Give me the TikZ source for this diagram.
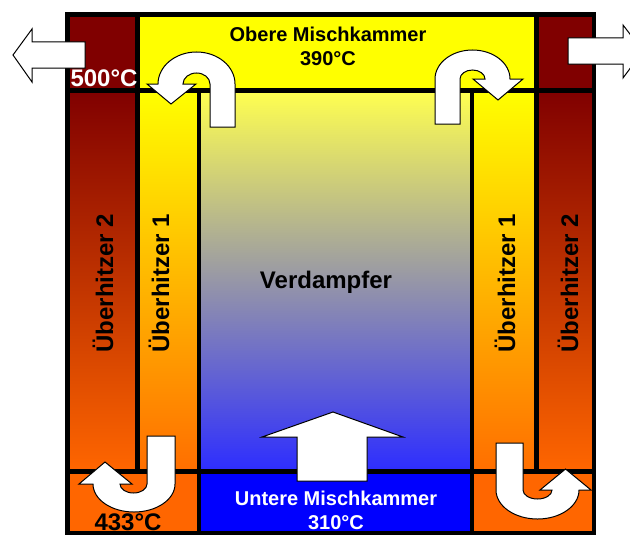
\documentclass[tikz,border=0pt]{standalone}
\usepackage{fontspec}
\setmainfont{Liberation Sans}

\definecolor{glowred}{RGB}{128,0,0}
\definecolor{hotorange}{RGB}{255,102,0}
\definecolor{steamyellow}{RGB}{255,255,0}
\definecolor{waterblue}{RGB}{0,0,255}

\tikzset{every picture/.style={line width=0.75pt}}
\tikzset{
  wall/.style={line width=3.4pt, line cap=rect},
  flow/.style={draw=black, fill=white, line width=0.75pt},
  stage2/.style={top color=glowred, bottom color=hotorange},
  stage1/.style={top color=steamyellow, bottom color={rgb,255:red,255;green,110;blue,0}},
  bigtext/.style={font=\bfseries\fontsize{18}{20}\selectfont, inner sep=0.75pt},
  chambertext/.style={font=\bfseries\fontsize{15}{18}\selectfont, inner sep=0.75pt, align=center},
}

\begin{document}
\begin{tikzpicture}[x=0.75pt,y=0.75pt,yscale=-1,xscale=1]
		\useasboundingbox (0,0) rectangle (630,535);
		\clip (0,0) rectangle (630,535);

		%Shape: Rectangle [top row]
		\fill [glowred] (67.5,14.5) rectangle (137.5,90.5);
		\fill [steamyellow] (137.5,14.5) rectangle (536.5,90.5);
		\fill [glowred] (536.5,14.5) rectangle (594,90.5);
		%Shape: Rectangle [superheaters and evaporator]
		\shade [stage2] (67.5,90.5) rectangle (137.5,471.5);
		\shade [stage1] (137.5,90.5) rectangle (199,471.5);
		\shade [top color={rgb,255:red,255;green,255;blue,80}, middle color={rgb,255:red,185;green,185;blue,200}, bottom color={rgb,255:red,45;green,45;blue,255}] (199,90.5) rectangle (472,471.5);
		\shade [stage1] (472,90.5) rectangle (536.5,471.5);
		\shade [stage2] (536.5,90.5) rectangle (594,471.5);
		%Shape: Rectangle [bottom row]
		\fill [hotorange] (67.5,471.5) rectangle (199,533);
		\fill [waterblue] (199,471.5) rectangle (472,533);
		\fill [hotorange] (472,471.5) rectangle (594,533);

		%Straight Lines [walls]
		\draw [wall] (67.5,14.5) rectangle (594,533);
		\draw [wall] (67.5,90.5) -- (594,90.5);
		\draw [wall] (67.5,471.5) -- (594,471.5);
		\draw [wall] (137.5,14.5) -- (137.5,471.5);
		\draw [wall] (536.5,14.5) -- (536.5,471.5);
		\draw [wall] (199,90.5) -- (199,533);
		\draw [wall] (472,90.5) -- (472,533);

		%Shape: Left Arrow [exit left]
		\draw [flow] (85,42) -- (32,42) -- (32,29) -- (13,55) -- (32,82) -- (32,68) -- (85,68) -- cycle ;
		%Shape: Right Arrow [exit right]
		\draw [flow] (568,38) -- (623,38) -- (623,25) -- (643,51) -- (623,78) -- (623,64) -- (568,64) -- cycle ;
		%Shape: Up Arrow [evaporator]
		\draw [flow] (297,481) -- (297,437) -- (262,437) -- (333,412) -- (403,437) -- (367,437) -- (367,481) -- cycle ;
		%Shape: U-Turn Arrow [top left]
		\draw [flow] (235,127) -- (235,84) arc [start angle=0, end angle=-180, x radius=38.5, y radius=32] -- (147,84) -- (171,104) -- (196,84) -- (183,84) arc [start angle=180, end angle=360, x radius=13.5, y radius=11] -- (210,127) -- cycle ;
		%Shape: U-Turn Arrow [top right]
		\draw [flow] (435,124) -- (435,79) arc [start angle=180, end angle=360, x radius=37.5, y radius=29] -- (523,79) -- (498,100) -- (473,79) -- (485,79) arc [start angle=0, end angle=-180, x radius=12.5, y radius=9] -- (460,124) -- cycle ;
		%Shape: U-Turn Arrow [bottom left]
		\draw [flow] (175,436) -- (175,484) arc [start angle=0, end angle=180, x radius=41, y radius=28] -- (79,484) -- (105,462) -- (132,484) -- (120,484) arc [start angle=180, end angle=0, x radius=13.5, y radius=9] -- (147,436) -- cycle ;
		%Shape: U-Turn Arrow [bottom right]
		\draw [flow] (496,443) -- (496,490) arc [start angle=180, end angle=0, x radius=41.5, y radius=29] -- (591,490) -- (565.5,469) -- (540,490) -- (552,490) arc [start angle=0, end angle=180, x radius=14.5, y radius=9] -- (523,443) -- cycle ;

		% Text Node
		\draw (328,46) node (obere) [chambertext] {Obere Mischkammer\\390°C};
		% Text Node
		\draw (336,510) node (untere) [chambertext, text=white] {Untere Mischkammer\\310°C};
		% Text Node
		\draw (326,282) node (verdampfer) [bigtext] {Verdampfer};
		% Text Node
		\draw (104,78) node (austritt) [bigtext, text=white] {500°C};
		% Text Node
		\draw (128,522) node (zwischen) [bigtext] {433°C};
		% Text Node
		\draw (103,283) node (ueLa) [bigtext, rotate=90] {Überhitzer 2};
		% Text Node
		\draw (159,283) node (ueLb) [bigtext, rotate=90] {Überhitzer 1};
		% Text Node
		\draw (505,283) node (ueRb) [bigtext, rotate=90] {Überhitzer 1};
		% Text Node
		\draw (568,283) node (ueRa) [bigtext, rotate=90] {Überhitzer 2};

\end{tikzpicture}
\end{document}
